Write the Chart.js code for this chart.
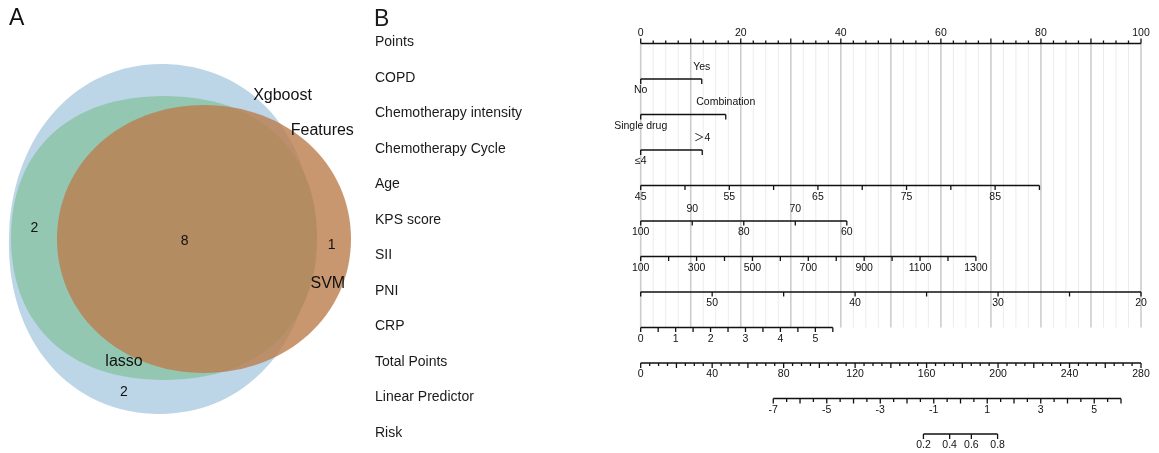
<!DOCTYPE html>
<html><head><meta charset="utf-8">
<script src="https://cdn.jsdelivr.net/npm/chart.js@4"></script>
<style>
html,body{margin:0;padding:0;background:#fff;width:1159px;height:453px;overflow:hidden}
#venn{position:absolute;left:0;top:0}
#nomo{position:absolute;left:365px;top:0}
</style></head><body>
<canvas id="venn" width="365" height="453"></canvas>
<canvas id="nomo" width="794" height="453"></canvas>
<script>
// ================= DATA =================
// Panel A: Venn diagram
const vennSetNames = ['Xgboost', 'lasso', 'SVM'];
const vennTitle = 'Features';
const vennRegionNames = ['Xgboost & lasso', 'Xgboost & lasso & SVM', 'SVM only', 'Xgboost only'];
const vennRegionCounts = [2, 8, 1, 2];

// Panel B: nomogram
const nomoRowLabels = ['Points', 'COPD', 'Chemotherapy intensity', 'Chemotherapy Cycle', 'Age', 'KPS score',
  'SII', 'PNI', 'CRP', 'Total Points', 'Linear Predictor', 'Risk'];
const pointsRange = [0, 100];
const pointsTickLabels = [0, 20, 40, 60, 80, 100];
const copdLevels = ['No', 'Yes'];
const copdScore = [0, 12.2];
const chemoIntensityLevels = ['Single drug', 'Combination'];
const chemoIntensityScore = [0, 17.0];
const chemoCycleLevels = ['≤4', '＞4'];
const chemoCycleScore = [0, 12.3];
const ageValues = [45, 90];
const ageScore = [0, 79.7];
const ageTickLabels = [45, 55, 65, 75, 85];
const kpsValues = [100, 60];
const kpsScore = [0, 41.2];
const kpsTickLabels = [100, 90, 80, 70, 60];
const siiValues = [100, 1300];
const siiScore = [0, 67.0];
const siiTickLabels = [100, 300, 500, 700, 900, 1100, 1300];
const pniValues = [55, 20];
const pniScore = [0, 100];
const pniTickLabels = [50, 40, 30, 20];
const crpValues = [0, 5.5];
const crpScore = [0, 38.4];
const crpTickLabels = [0, 1, 2, 3, 4, 5];
const totalPointsValues = [0, 280];
const totalPointsTickLabels = [0, 40, 80, 120, 160, 200, 240, 280];
const linearPredictorValues = [-7, 6];
const linearPredictorTotalPoints = [74.2, 268.8];
const linearPredictorTickLabels = [-7, -5, -3, -1, 1, 3, 5];
const riskTickLabels = [0.2, 0.4, 0.6, 0.8];

// ================= LAYOUT / STYLE =================
const FONT = "'Liberation Sans', Arial, 'Noto Sans CJK SC', sans-serif";
const vennShapes = [
  {cx:161, cy:239, rx:152, ry:175, rot:0.05, k:0.585, fill:'#bcd6e8', alpha:1},
  {cx:164, cy:238, rx:153, ry:142, rot:0, k:0.62, fill:'#94c7b2', alpha:1},
  {cx:204, cy:239, rx:147, ry:134, rot:0, k:0.565, fill:'rgb(186,125,76)', alpha:0.8}
];
const vennSetLabelPos = [[282.5, 100], [124, 365.5], [327.8, 288.3]];
const vennTitlePos = [322.3, 135];
const vennCountPos = [[34.5, 231.7], [184.7, 245], [331.7, 249.3], [124, 396]];

function lin(v, dom, rng) { return rng[0] + (v - dom[0]) * (rng[1] - rng[0]) / (dom[1] - dom[0]); }
function steps(a, b, step) {
  const out = []; const n = Math.round(Math.abs(b - a) / step);
  const s = b >= a ? step : -step;
  for (let i = 0; i <= n; i++) out.push(+(a + i * s).toFixed(6));
  return out;
}

// ============ Panel A chart ============
const vennPlugin = {
  id: 'venn',
  afterDatasetsDraw(chart) {
    const ctx = chart.ctx, xs = chart.scales.x, ys = chart.scales.y;
    vennShapes.forEach(s => {
      const px = xs.getPixelForValue(s.cx), py = ys.getPixelForValue(s.cy);
      const rx = xs.getPixelForValue(s.cx + s.rx) - px;
      const ry = Math.abs(ys.getPixelForValue(s.cy + s.ry) - py);
      const k = s.k;
      ctx.save();
      ctx.beginPath();
      ctx.translate(px, py); ctx.rotate(s.rot); ctx.scale(rx, ry);
      ctx.moveTo(1, 0);
      ctx.bezierCurveTo(1, k, k, 1, 0, 1);
      ctx.bezierCurveTo(-k, 1, -1, k, -1, 0);
      ctx.bezierCurveTo(-1, -k, -k, -1, 0, -1);
      ctx.bezierCurveTo(k, -1, 1, -k, 1, 0);
      ctx.closePath();
      ctx.setTransform(1, 0, 0, 1, 0, 0);
      ctx.globalAlpha = s.alpha;
      ctx.fillStyle = s.fill;
      ctx.fill();
      ctx.restore();
    });
    ctx.save();
    ctx.fillStyle = '#111';
    ctx.textAlign = 'center'; ctx.textBaseline = 'alphabetic';
    ctx.font = '16px ' + FONT;
    vennSetNames.forEach((n, i) => ctx.fillText(n, xs.getPixelForValue(vennSetLabelPos[i][0]), ys.getPixelForValue(vennSetLabelPos[i][1])));
    ctx.fillText(vennTitle, xs.getPixelForValue(vennTitlePos[0]), ys.getPixelForValue(vennTitlePos[1]));
    ctx.font = '14px ' + FONT;
    vennRegionCounts.forEach((c, i) => ctx.fillText(String(c), xs.getPixelForValue(vennCountPos[i][0]), ys.getPixelForValue(vennCountPos[i][1])));
    ctx.textAlign = 'left';
    ctx.font = '23px ' + FONT;
    ctx.fillText('A', 9, 25);
    ctx.restore();
  }
};
new Chart(document.getElementById('venn'), {
  type: 'scatter',
  data: { datasets: [{ label: 'regions', data: vennCountPos.map(p => ({x:p[0], y:p[1]})), pointRadius: 0 }] },
  options: {
    responsive: false, animation: false, devicePixelRatio: 1,
    layout: { padding: 0 },
    plugins: { legend: { display: false }, tooltip: { enabled: false } },
    scales: {
      x: { type: 'linear', min: 0, max: 365, display: false },
      y: { type: 'linear', min: 0, max: 453, reverse: true, display: false }
    }
  },
  plugins: [vennPlugin]
});

// ============ Panel B chart ============
const tpToPts = v => lin(v, totalPointsValues, pointsRange);
const lpToPts = v => tpToPts(lin(v, linearPredictorValues, linearPredictorTotalPoints));
const logit = p => Math.log(p / (1 - p));

const axes = [];
axes.push({ row: 0, from: 0, to: 100, dir: -1,
  ticks: steps(0, 100, 2.5).map(v => ({ x: v, len: (Math.abs(v % 10) < 1e-6) ? 5 : 3 })),
  labels: pointsTickLabels.map(v => ({ x: v, text: String(v), pos: 'above' })) });
function twoLevel(row, levels, score) {
  axes.push({ row, from: score[0], to: score[1], dir: 1,
    ticks: score.map(s => ({ x: s, len: 5 })),
    labels: levels.map((l, i) => ({ x: score[i], text: l, pos: i === 0 ? 'below' : 'above' })) });
}
twoLevel(1, copdLevels, copdScore);
twoLevel(2, chemoIntensityLevels, chemoIntensityScore);
twoLevel(3, chemoCycleLevels, chemoCycleScore);
function contAxis(row, values, score, step, labelVals, alternate) {
  const f = v => lin(v, values, score);
  axes.push({ row, from: score[0], to: score[1], dir: 1,
    ticks: steps(values[0], values[1], step).map(v => ({ x: f(v), len: 4.5 })),
    labels: labelVals.map((v, i) => ({ x: f(v), text: String(v), pos: alternate && i % 2 === 1 ? 'above' : 'below' })) });
}
contAxis(4, ageValues, ageScore, 5, ageTickLabels, false);
contAxis(5, kpsValues, kpsScore, 10, kpsTickLabels, true);
contAxis(6, siiValues, siiScore, 100, siiTickLabels, false);
contAxis(7, pniValues, pniScore, 5, pniTickLabels, false);
contAxis(8, crpValues, crpScore, 0.5, crpTickLabels, false);
axes.push({ row: 9, from: tpToPts(totalPointsValues[0]), to: tpToPts(totalPointsValues[1]), dir: 1,
  ticks: steps(0, 280, 5).map(v => ({ x: tpToPts(v), len: (v % 20 === 0) ? 5 : 3 })),
  labels: totalPointsTickLabels.map(v => ({ x: tpToPts(v), text: String(v), pos: 'below' })) });
axes.push({ row: 10, from: lpToPts(linearPredictorValues[0]), to: lpToPts(linearPredictorValues[1]), dir: 1,
  ticks: steps(-7, 6, 0.5).map(v => ({ x: lpToPts(v), len: Number.isInteger(v) ? 5 : 3.5 })),
  labels: linearPredictorTickLabels.map(v => ({ x: lpToPts(v), text: String(v), pos: 'below' })) });
axes.push({ row: 11, from: lpToPts(logit(riskTickLabels[0])), to: lpToPts(logit(riskTickLabels[riskTickLabels.length - 1])), dir: 1,
  ticks: riskTickLabels.map(r => ({ x: lpToPts(logit(r)), len: 5 })),
  labels: riskTickLabels.map(r => ({ x: lpToPts(logit(r)), text: r.toFixed(1), pos: 'below' })) });

const nomoPlugin = {
  id: 'nomo',
  beforeDatasetsDraw(chart) {
    const ctx = chart.ctx, xs = chart.scales.x, ys = chart.scales.y;
    const y0 = ys.getPixelForValue(0), y1 = ys.getPixelForValue(8);
    ctx.save();
    steps(0, 100, 2.5).forEach(v => {
      const major = Math.abs(v % 10) < 1e-6;
      const x = xs.getPixelForValue(v);
      ctx.beginPath();
      ctx.strokeStyle = major ? '#cdcdcd' : '#ececec';
      ctx.lineWidth = major ? 1.6 : 1;
      ctx.moveTo(x, y0); ctx.lineTo(x, y1); ctx.stroke();
    });
    ctx.fillStyle = '#1a1a1a';
    ctx.font = '14px ' + FONT;
    ctx.textAlign = 'left'; ctx.textBaseline = 'middle';
    nomoRowLabels.forEach((l, i) => ctx.fillText(l, 10, ys.getPixelForValue(i) - 1));
    ctx.font = '23px ' + FONT;
    ctx.textBaseline = 'alphabetic';
    ctx.fillText('B', 9, 26);
    ctx.restore();
  },
  afterDatasetsDraw(chart) {
    const ctx = chart.ctx, xs = chart.scales.x, ys = chart.scales.y;
    ctx.save();
    ctx.strokeStyle = '#111'; ctx.lineWidth = 1.3;
    ctx.fillStyle = '#111';
    ctx.font = '10.5px ' + FONT;
    ctx.textAlign = 'center'; ctx.textBaseline = 'middle';
    axes.forEach(a => {
      const y = ys.getPixelForValue(a.row);
      a.ticks.forEach(t => {
        const x = xs.getPixelForValue(t.x);
        ctx.beginPath(); ctx.moveTo(x, y); ctx.lineTo(x, y + a.dir * t.len); ctx.stroke();
      });
      a.labels.forEach(l => {
        const x = xs.getPixelForValue(l.x);
        const dy = a.row === 0 ? -10.5 : (l.pos === 'above' ? -12 : 11.5);
        ctx.fillText(l.text, x, y + dy);
      });
    });
    ctx.restore();
  }
};

new Chart(document.getElementById('nomo'), {
  type: 'scatter',
  data: {
    datasets: axes.map(a => ({
      label: nomoRowLabels[a.row],
      data: [{ x: a.from, y: a.row }, { x: a.to, y: a.row }],
      showLine: true, borderColor: '#111', borderWidth: 1.5, pointRadius: 0, fill: false, clip: false
    }))
  },
  options: {
    responsive: false, animation: false, devicePixelRatio: 1,
    layout: { padding: { left: 275.7, right: 18, top: 43.5, bottom: 19 } },
    plugins: { legend: { display: false }, tooltip: { enabled: false } },
    scales: {
      x: { type: 'linear', min: 0, max: 100, display: false },
      y: { type: 'linear', min: 0, max: 11, reverse: true, display: false }
    }
  },
  plugins: [nomoPlugin]
});
</script>
</body></html>
